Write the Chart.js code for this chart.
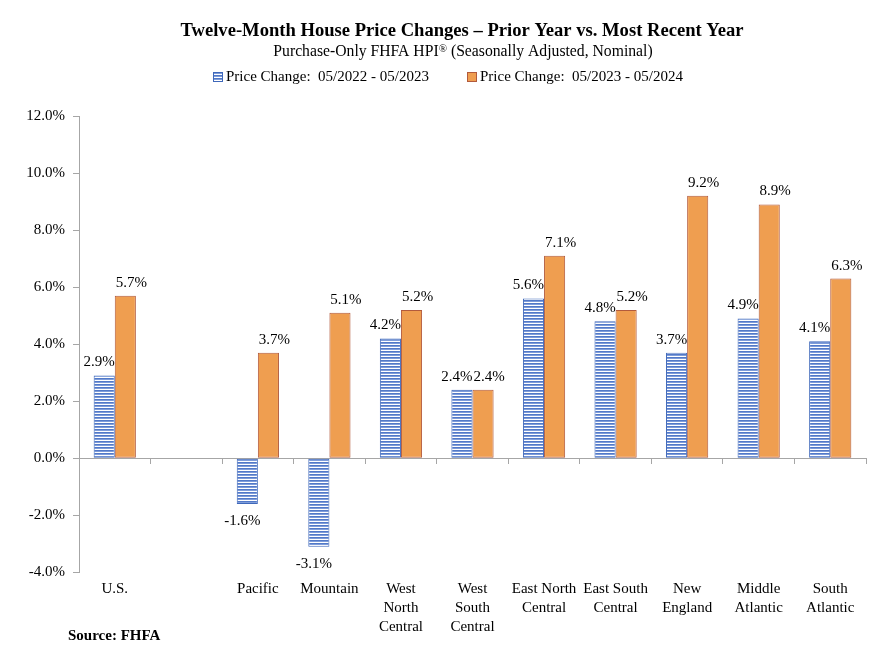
<!DOCTYPE html>
<html>
<head>
<meta charset="utf-8">
<script src="https://cdn.jsdelivr.net/npm/chart.js@4/dist/chart.umd.min.js"></script>
<style>
  html, body { margin: 0; padding: 0; background: #fff; }
  #wrap { width: 878px; height: 662px; }
</style>
</head>
<body>
<div id="wrap"><canvas id="hpi_chart"></canvas></div>
<script>
//chart data
const regions = [
  "U.S.", "", "Pacific", "Mountain",
  ["West", "North", "Central"], ["West", "South", "Central"],
  ["East North", "Central"], ["East South", "Central"],
  ["New", "England"], ["Middle", "Atlantic"], ["South", "Atlantic"]
];
const prior_year = [2.9, null, -1.6, -3.1, 4.2, 2.4, 5.6, 4.8, 3.7, 4.9, 4.1];
const recent_year = [5.7, null, 3.7, 5.1, 5.2, 2.4, 7.1, 5.2, 9.2, 8.9, 6.3];
const series_names = ["Price Change:  05/2022 - 05/2023", "Price Change:  05/2023 - 05/2024"];
const y_ticks = [-4, -2, 0, 2, 4, 6, 8, 10, 12];

const title_text = "Twelve-Month House Price Changes \u2013 Prior Year vs. Most Recent Year";
const source_text = "Source: FHFA";

const serif = "'Liberation Serif', 'Times New Roman', serif";
Chart.defaults.font.family = serif;
Chart.defaults.color = "#000";

const blue_border = "#3F68BA";
const orange_fill = "#EF9E50";
const orange_border = "#B25A3C";

//striped fill for the blue bars
function stripes() {
  const c = document.createElement("canvas");
  c.width = 4; c.height = 3;
  const p = c.getContext("2d");
  p.fillStyle = "#FFFFFF"; p.fillRect(0, 0, 4, 3);
  p.fillStyle = "#5279C8"; p.fillRect(0, 0, 4, 1);
  p.fillStyle = "#7E9CD9"; p.fillRect(0, 1, 4, 1);
  return p.createPattern(c, "repeat");
}
const blue_fill = stripes();

//title, subtitle, legend and source text
const textPlugin = {
  id: "texts",
  afterDraw(chart) {
    const ctx = chart.ctx;
    ctx.save();
    ctx.fillStyle = "#000";
    ctx.textBaseline = "middle";
    ctx.textAlign = "center";
    ctx.font = "bold 18.6px " + serif;
    ctx.fillText(title_text, 462, 31);

    const a = "Purchase-Only FHFA HPI", b = " (Seasonally Adjusted, Nominal)";
    ctx.font = "15.7px " + serif;
    const wa = ctx.measureText(a).width, wb = ctx.measureText(b).width;
    ctx.font = "11px " + serif;
    const wr = ctx.measureText("\u00AE").width;
    let x = 463 - (wa + wr + wb) / 2;
    ctx.textAlign = "left";
    ctx.font = "15.7px " + serif;
    ctx.fillText(a, x, 52);
    ctx.font = "11px " + serif;
    ctx.fillText("\u00AE", x + wa, 49);
    ctx.font = "15.7px " + serif;
    ctx.fillText(b, x + wa + wr, 52);

    // legend
    const legend_x = [213, 467];
    const fills = [blue_fill, orange_fill];
    const borders = [blue_border, orange_border];
    ctx.font = "15px " + serif;
    legend_x.forEach((lx, i) => {
      ctx.fillStyle = fills[i];
      ctx.fillRect(lx, 72, 9, 9);
      ctx.strokeStyle = borders[i];
      ctx.lineWidth = 1;
      ctx.strokeRect(lx + 0.5, 72.5, 9, 9);
      ctx.fillStyle = "#000";
      ctx.fillText(series_names[i], lx + 13, 77);
    });

    ctx.font = "bold 15px " + serif;
    ctx.fillText(source_text, 68, 636);
    ctx.restore();
  }
};

//value labels above / below bars, nudged apart when they collide
const valueLabels = {
  id: "valueLabels",
  afterDatasetsDraw(chart) {
    const ctx = chart.ctx;
    ctx.save();
    ctx.font = "15px " + serif;
    ctx.fillStyle = "#000";
    ctx.textAlign = "center";
    ctx.textBaseline = "middle";
    const nudge = [-5, 6];
    chart.data.labels.forEach((lab, j) => {
      const items = [];
      chart.data.datasets.forEach((ds, i) => {
        const v = ds.data[j];
        if (v === null) return;
        const bar = chart.getDatasetMeta(i).data[j];
        const txt = v.toFixed(1) + "%";
        items.push({ txt, x: bar.x + nudge[i], y: v >= 0 ? bar.y - 13 : bar.y + 17, w: ctx.measureText(txt).width });
      });
      if (items.length === 2 && Math.abs(items[0].y - items[1].y) < 14) {
        const need = (items[0].w + items[1].w) / 2;
        const gap = items[1].x - items[0].x;
        if (gap < need) {
          items[0].x -= (need - gap) / 2;
          items[1].x += (need - gap) / 2;
        }
      }
      items.forEach(it => ctx.fillText(it.txt, it.x, it.y));
    });
    ctx.restore();
  }
};

const ctx = document.getElementById("hpi_chart").getContext("2d");
new Chart(ctx, {
  type: "bar",
  data: {
    labels: regions,
    datasets: [
      {
        label: series_names[0],
        data: prior_year,
        backgroundColor: blue_fill,
        borderColor: blue_border,
        borderWidth: 1,
        borderSkipped: false,
      },
      {
        label: series_names[1],
        data: recent_year,
        backgroundColor: orange_fill,
        borderColor: orange_border,
        borderWidth: 1,
        borderSkipped: false,
      },
    ],
  },
  options: {
    responsive: true,
    maintainAspectRatio: false,
    animation: false,
    layout: { padding: { top: 116, left: 0, right: 12, bottom: 17.5 } },
    datasets: { bar: { categoryPercentage: 0.59, barPercentage: 1.0 } },
    plugins: {
      title: { display: false },
      tooltip: { enabled: false },
      legend: { display: false },
    },
    scales: {
      x: {
        type: "category",
        position: { y: 0 },
        offset: true,
        ticks: { display: false },
        grid: {
          offset: true,
          drawOnChartArea: false,
          drawTicks: true,
          tickLength: 5,
          color: "#A6A6A6",
        },
        border: { color: "#A6A6A6", width: 1 },
      },
      x2: {
        type: "category",
        position: "bottom",
        offset: true,
        grid: { display: false, drawTicks: false },
        border: { display: false },
        ticks: {
          autoSkip: false,
          maxRotation: 0,
          minRotation: 0,
          padding: 7.5,
          font: { size: 15, lineHeight: 1.27 },
          color: "#000",
        },
      },
      y: {
        min: -4,
        max: 12,
        afterFit(scale) { scale.width = 79; },
        afterBuildTicks(scale) { scale.ticks = y_ticks.map(v => ({ value: v })); },
        ticks: {
          padding: 8,
          font: { size: 15 },
          color: "#000",
          callback: v => v.toFixed(1) + "%",
        },
        grid: {
          drawOnChartArea: false,
          drawTicks: true,
          tickLength: 6,
          color: "#A6A6A6",
        },
        border: { color: "#A6A6A6", width: 1 },
      },
    },
  },
  plugins: [textPlugin, valueLabels],
});
</script>
</body>
</html>
